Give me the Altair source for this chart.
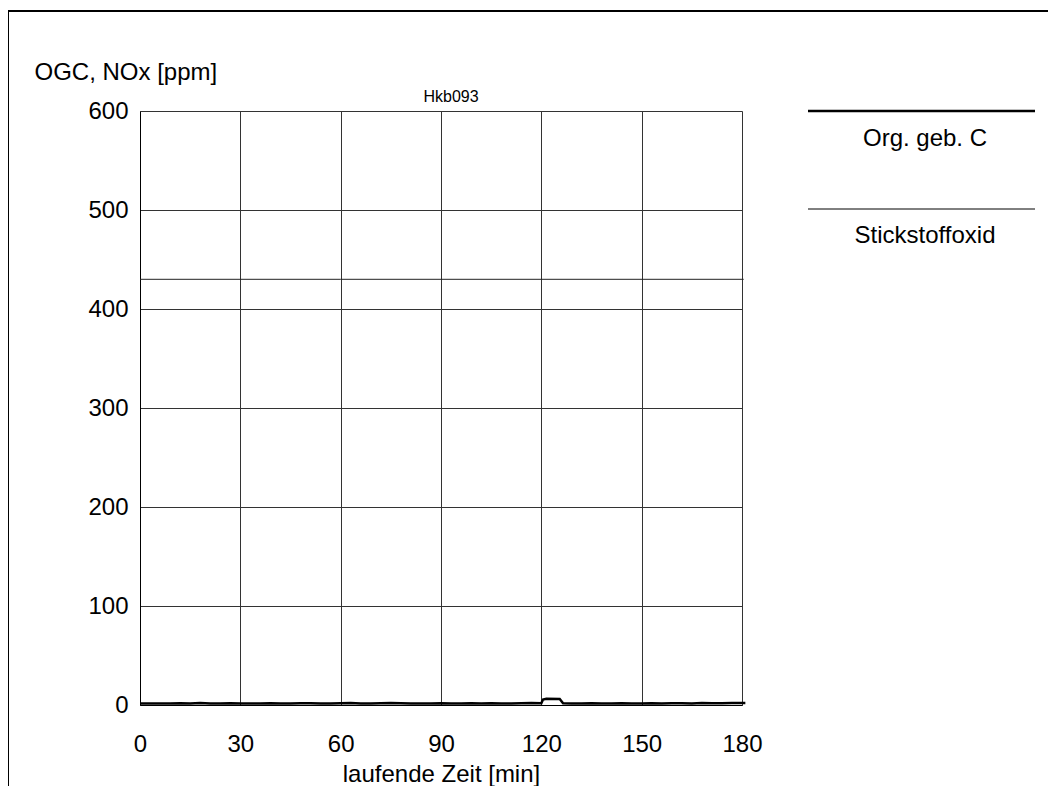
import altair as alt
import pandas as pd

chart_title = "Hkb093"
x_title = "laufende Zeit [min]"
y_title = "OGC, NOx [ppm]"
series_names = ["Org. geb. C", "Stickstoffoxid"]
x_ticks = [0, 30, 60, 90, 120, 150, 180]
y_ticks = [0, 100, 200, 300, 400, 500, 600]

# Org. geb. C (OGC) series
ogc_time = [0, 3, 6, 9, 12, 15, 18, 21, 24, 27, 30, 33, 36, 39, 42, 45, 48, 51, 54, 57,
            60, 63, 66, 69, 72, 75, 78, 81, 84, 87, 90, 93, 96, 99, 102, 105, 108, 111,
            114, 117, 120, 120.5, 121.5, 125.5, 126.5, 129, 132, 135, 138, 141, 144, 147,
            150, 153, 156, 159, 162, 165, 168, 171, 174, 177, 180, 181]
ogc_value = [1.5, 1.4, 1.6, 1.5, 1.7, 1.6, 1.9, 1.6, 1.5, 1.8, 1.6, 1.5, 1.4, 1.7, 1.5, 1.6,
             1.8, 1.7, 1.5, 1.6, 1.7, 1.9, 1.6, 1.5, 1.8, 2.0, 1.7, 1.6, 1.5, 1.6, 1.7, 1.5,
             1.6, 1.8, 1.6, 1.7, 1.5, 1.6, 1.8, 1.9, 1.7, 5.5, 6.2, 6.0, 1.8, 1.6, 1.5, 1.7,
             1.6, 1.5, 1.8, 1.6, 1.5, 1.7, 1.6, 1.8, 1.7, 1.6, 1.9, 1.7, 1.8, 1.9, 2.0, 2.0]

# Stickstoffoxid (NOx) series
nox_time = [0, 60, 120, 180.5]
nox_value = [430, 430, 430, 430]

df = pd.concat([
    pd.DataFrame({"t": ogc_time, "v": ogc_value, "s": series_names[0]}),
    pd.DataFrame({"t": nox_time, "v": nox_value, "s": series_names[1]}),
])

FONT = "Liberation Sans"
FS = 24
W, H = 602, 594

x_enc = alt.X("t:Q", scale=alt.Scale(domain=[0, 180], nice=False),
              axis=alt.Axis(values=x_ticks, title=x_title, grid=True, ticks=False,
                            labelPadding=27, titlePadding=6, labelFontSize=FS,
                            titleFontSize=FS, titleFontWeight="normal",
                            labelFont=FONT, titleFont=FONT, labelColor="black",
                            titleColor="black", domainColor="black", gridColor="#333",
                            labelFlush=False))
y_enc = alt.Y("v:Q", scale=alt.Scale(domain=[0, 600], nice=False),
              axis=alt.Axis(values=y_ticks, title=y_title, grid=True, ticks=False,
                            labelPadding=12, labelFontSize=FS, titleFontSize=FS,
                            titleFontWeight="normal", labelFont=FONT, titleFont=FONT,
                            labelColor="black", titleColor="black", domainColor="black",
                            gridColor="#333", titleAngle=0, titleAlign="left",
                            titleBaseline="middle", titleX=-106, titleY=-39,
                            labelFlush=False))

lines = alt.Chart(df).mark_line(clip=False, interpolate="linear").encode(
    x=x_enc, y=y_enc,
    color=alt.Color("s:N", scale=alt.Scale(domain=series_names, range=["black", "#222"]),
                    legend=None),
    strokeWidth=alt.StrokeWidth("s:N", scale=alt.Scale(domain=series_names, range=[2.5, 1]),
                                legend=None),
)

# chart title (small, centred above plot)
title_txt = alt.Chart().mark_text(font=FONT, fontSize=16, align="center", baseline="middle",
                                  color="black").encode(
    x=alt.value(W / 2 + 10), y=alt.value(-14), text=alt.value(chart_title))

# legend (drawn manually: line above label)
leg_line1 = alt.Chart().mark_rule(color="black", strokeWidth=2.5).encode(
    x=alt.value(668), x2=alt.value(895), y=alt.value(0))
leg_text1 = alt.Chart().mark_text(font=FONT, fontSize=FS, align="center", baseline="middle",
                                  color="black").encode(
    x=alt.value(785), y=alt.value(28), text=alt.value(series_names[0]))
leg_line2 = alt.Chart().mark_rule(color="black", strokeWidth=1).encode(
    x=alt.value(668), x2=alt.value(895), y=alt.value(98))
leg_text2 = alt.Chart().mark_text(font=FONT, fontSize=FS, align="center", baseline="middle",
                                  color="black").encode(
    x=alt.value(785), y=alt.value(125), text=alt.value(series_names[1]))

# outer frame (top and left edges)
frame_top = alt.Chart().mark_rule(color="black", strokeWidth=2).encode(
    x=alt.value(-132), x2=alt.value(930), y=alt.value(-100))
frame_left = alt.Chart().mark_rule(color="black", strokeWidth=2).encode(
    x=alt.value(-132), y=alt.value(-100), y2=alt.value(700))

chart = alt.layer(lines, title_txt, leg_line1, leg_text1, leg_line2, leg_text2,
                  frame_top, frame_left).properties(
    width=W, height=H,
    autosize=alt.AutoSizeParams(type="none"),
    padding={"left": 132, "top": 103, "right": 306, "bottom": 81},
).configure_view(stroke="black", strokeWidth=1).configure(background="white")

chart.save("out.html", embed_options={"renderer": "svg", "actions": False})
